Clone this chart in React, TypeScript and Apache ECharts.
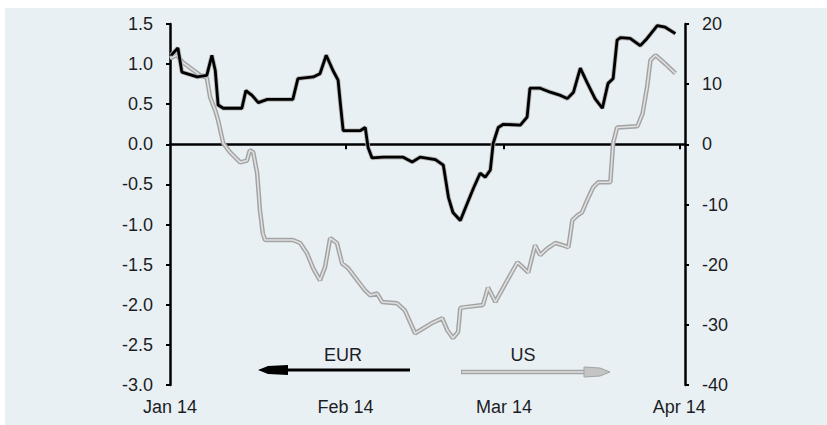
import React, { useEffect, useRef } from 'react';
import * as echarts from 'echarts';

// x positions are days since 1 Jan 2014
const monthTicks = [0, 31, 59, 90];
const monthLabels = ['Jan 14', 'Feb 14', 'Mar 14', 'Apr 14'];

const eurDays = [0.2, 1.4, 2.1, 4.8, 6.5, 7.4, 8.0, 8.5, 9.4, 12.7, 13.4, 14.5, 15.6, 17.2, 21.7, 22.6, 25.3, 26.5, 27.6, 28.8, 29.7, 30.1, 30.6, 33.6, 34.5, 35.0, 35.7, 37.7, 41.2, 42.8, 44.2, 46.9, 48.3, 49.2, 50.0, 51.3, 52.5, 53.6, 54.8, 55.7, 56.6, 57.1, 58.0, 58.9, 61.9, 63.1, 63.6, 65.4, 67.2, 69.0, 70.2, 71.3, 72.5, 73.7, 75.1, 76.4, 77.4, 78.3, 79.0, 79.6, 81.3, 83.1, 84.3, 86.1, 87.5, 89.3];
const eurValues = [1.11, 1.2, 0.9, 0.84, 0.86, 1.11, 0.92, 0.49, 0.45, 0.45, 0.67, 0.61, 0.52, 0.56, 0.56, 0.82, 0.84, 0.88, 1.11, 0.92, 0.8, 0.51, 0.17, 0.17, 0.21, -0.04, -0.17, -0.16, -0.16, -0.22, -0.16, -0.19, -0.26, -0.66, -0.85, -0.95, -0.74, -0.55, -0.36, -0.41, -0.32, 0.01, 0.21, 0.25, 0.24, 0.34, 0.7, 0.7, 0.65, 0.61, 0.57, 0.65, 0.95, 0.77, 0.57, 0.45, 0.76, 0.82, 1.3, 1.33, 1.32, 1.23, 1.32, 1.48, 1.46, 1.38];

const usDays = [0.0, 1.2, 2.3, 5.3, 6.5, 7.1, 8.0, 8.5, 9.4, 10.6, 12.4, 13.6, 14.1, 14.7, 15.4, 15.9, 16.4, 16.8, 21.7, 23.0, 24.2, 25.3, 26.5, 27.4, 28.3, 29.5, 30.4, 31.5, 33.1, 34.5, 35.4, 36.6, 37.5, 40.1, 41.5, 43.3, 44.2, 46.5, 48.1, 49.0, 50.0, 50.9, 51.3, 51.8, 55.3, 56.2, 57.5, 58.3, 59.6, 61.4, 63.3, 64.5, 65.4, 66.7, 68.1, 69.5, 70.4, 71.1, 72.0, 72.8, 73.7, 74.8, 75.7, 77.8, 78.3, 79.0, 82.6, 83.5, 84.3, 84.9, 85.8, 87.5, 89.3];
const usValues = [14.3, 14.8, 13.6, 11.5, 11.1, 7.8, 5.6, 4.0, 0.2, -1.3, -3.0, -2.7, -1.0, -1.3, -4.8, -11.0, -14.8, -15.9, -15.9, -16.4, -18.1, -20.6, -22.6, -20.4, -15.6, -16.4, -19.8, -20.6, -22.6, -24.3, -25.1, -24.8, -26.2, -26.4, -27.6, -31.4, -30.9, -29.6, -28.9, -30.9, -32.2, -31.2, -27.2, -27.1, -26.7, -23.8, -26.2, -24.8, -22.6, -19.6, -21.3, -16.8, -18.4, -17.3, -16.4, -16.8, -17.1, -12.6, -11.8, -11.3, -9.3, -7.1, -6.3, -6.3, 0.2, 2.8, 3.0, 5.1, 9.5, 14.0, 14.8, 13.4, 11.8];

const legendNames = ['EUR', 'US'];

export default function App() {
  const ref = useRef<HTMLDivElement>(null);
  useEffect(() => {
    const chart = echarts.init(ref.current!, null, { renderer: 'svg' });
    const eurData = eurDays.map((d, i) => [d, eurValues[i]]);
    const usData = usDays.map((d, i) => [d, usValues[i]]);
    const font = { fontFamily: '"Liberation Sans", Arial, sans-serif', fontSize: 18, color: '#1c1c24' };
    chart.setOption({
      animation: false,
      backgroundColor: '#ffffff',
      graphic: [
        { type: 'rect', z: -100, silent: true, shape: { x: 5, y: 8, width: 822, height: 417 }, style: { fill: '#e9f0f4' } },
        // EUR arrow (left)
        { type: 'line', z: 10, shape: { x1: 410, y1: 370, x2: 270, y2: 370 }, style: { stroke: '#000', lineWidth: 3 } },
        { type: 'polygon', z: 10, shape: { points: [[258, 370], [268, 366], [288, 365], [288, 375], [268, 374]] }, style: { fill: '#000' } },
        { type: 'text', z: 10, style: { text: legendNames[0], x: 343, y: 355, align: 'center', verticalAlign: 'middle', fontFamily: font.fontFamily, fontSize: font.fontSize, fill: font.color } },
        // US arrow (right)
        { type: 'line', z: 10, shape: { x1: 461, y1: 372, x2: 590, y2: 372 }, style: { stroke: '#a3a3a3', lineWidth: 4.5 } },
        { type: 'line', z: 11, shape: { x1: 462, y1: 372, x2: 590, y2: 372 }, style: { stroke: '#e2e2e2', lineWidth: 1.6 } },
        { type: 'polygon', z: 11, shape: { points: [[610, 372], [600, 376], [584, 377], [584, 367], [600, 368]] }, style: { fill: '#c4c4c4', stroke: '#a3a3a3', lineWidth: 1 } },
        { type: 'text', z: 10, style: { text: legendNames[1], x: 523, y: 355, align: 'center', verticalAlign: 'middle', fontFamily: font.fontFamily, fontSize: font.fontSize, fill: font.color } },
      ],
      grid: { left: 170, right: 142, top: 24, bottom: 40, containLabel: false },
      xAxis: [
        {
          type: 'value', min: 0, max: 91, position: 'bottom',
          axisLine: { show: false, onZero: false },
          axisTick: { show: false },
          splitLine: { show: false },
          axisLabel: {
            customValues: monthTicks,
            formatter: (v: number) => monthLabels[monthTicks.indexOf(Math.round(v))] ?? '',
            margin: 13,
            ...font,
          },
        },
        {
          type: 'value', min: 0, max: 91, position: 'top',
          axisLine: { show: true, onZero: true, onZeroAxisIndex: 0, lineStyle: { color: '#000', width: 2.5 } },
          axisTick: { show: true, inside: true, customValues: [31, 59, 90], length: 5, lineStyle: { color: '#000', width: 2 } },
          axisLabel: { show: false },
          splitLine: { show: false },
        },
      ],
      yAxis: [
        {
          type: 'value', min: -3, max: 1.5, interval: 0.5, position: 'left',
          axisLine: { show: true, onZero: false, lineStyle: { color: '#000', width: 2.5 } },
          axisTick: { show: true, length: 4, lineStyle: { color: '#000', width: 2 } },
          axisLabel: { formatter: (v: number) => v.toFixed(1), margin: 17, ...font },
          splitLine: { show: false },
        },
        {
          type: 'value', min: -40, max: 20, interval: 10, position: 'right',
          axisLine: { show: true, onZero: false, lineStyle: { color: '#000', width: 2.5 } },
          axisTick: { show: true, length: 4, lineStyle: { color: '#000', width: 2 } },
          axisLabel: { margin: 17, ...font },
          splitLine: { show: false },
        },
      ],
      series: [
        { name: 'US', type: 'line', xAxisIndex: 0, yAxisIndex: 1, data: usData, showSymbol: false, z: 2, lineStyle: { color: '#a3a3a3', width: 4.5 } },
        { name: 'US inner', type: 'line', xAxisIndex: 0, yAxisIndex: 1, data: usData, showSymbol: false, z: 3, lineStyle: { color: '#e0e0e0', width: 1.6 } },
        { name: 'EUR halo', type: 'line', xAxisIndex: 0, yAxisIndex: 0, data: eurData, showSymbol: false, z: 4, lineStyle: { color: '#b4b4b4', width: 4.5 } },
        { name: 'EUR', type: 'line', xAxisIndex: 0, yAxisIndex: 0, data: eurData, showSymbol: false, z: 5, lineStyle: { color: '#000', width: 2.8 } },
      ],
    });
    return () => chart.dispose();
  }, []);
  return <div ref={ref} style={{ position: 'fixed', left: 0, top: 0, width: 827, height: 425 }} />;
}
